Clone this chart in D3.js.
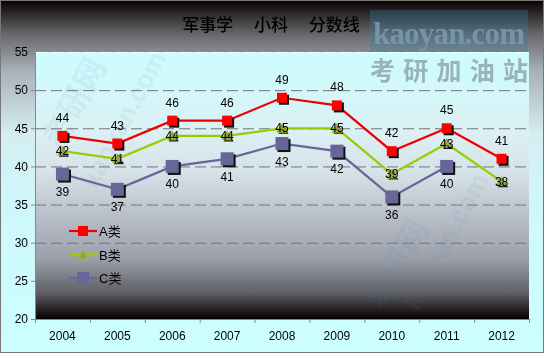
<!DOCTYPE html>
<html>
<head>
<meta charset="utf-8">
<style>
  body { margin: 0; background: #fff; }
  svg text { font-family: "Liberation Sans", "DejaVu Sans", sans-serif; }
</style>
</head>
<body>
<div id="chart"></div>
<script src="https://cdnjs.cloudflare.com/ajax/libs/d3/7.8.5/d3.min.js"></script>
<script>
// data
const years = ["2004", "2005", "2006", "2007", "2008", "2009", "2010", "2011", "2012"];
const seriesA = [44, 43, 46, 46, 49, 48, 42, 45, 41];
const seriesB = [42, 41, 44, 44, 45, 45, 39, 43, 38];
const seriesC = [39, 37, 40, 41, 43, 42, 36, 40, null];
const yTicks = [20, 25, 30, 35, 40, 45, 50, 55];
const seriesNames = ["A类", "B类", "C类"];

const width = 544, height = 353;
const plot = { left: 35, right: 529, top: 52, bottom: 319 };

const svg = d3.select("#chart").append("svg")
  .attr("width", width).attr("height", height);

const defs = svg.append("defs");
const outerGrad = defs.append("linearGradient").attr("id", "outerBg")
  .attr("x1", 0).attr("y1", 0).attr("x2", 0).attr("y2", 1);
[[0, "#050000"], [0.1, "#6a6a6e"], [0.2, "#a8b0b8"], [0.38, "#d4eef2"], [0.6, "#cef8fc"], [1, "#ccffff"]]
  .forEach(([o, c]) => outerGrad.append("stop").attr("offset", o).attr("stop-color", c));

const plotGrad = defs.append("linearGradient").attr("id", "plotBg")
  .attr("x1", 0).attr("y1", 0).attr("x2", 0).attr("y2", 1);
[[0, "#ccfdff"], [0.3, "#dcf0f4"], [0.45, "#d6e2e8"], [0.62, "#b8bec8"], [0.78, "#9a9ea8"], [0.9, "#606066"], [1, "#050000"]]
  .forEach(([o, c]) => plotGrad.append("stop").attr("offset", o).attr("stop-color", c));

svg.append("rect").attr("width", width).attr("height", height).attr("fill", "url(#outerBg)");
svg.append("rect").attr("x", 0.5).attr("y", 0.5).attr("width", width - 1).attr("height", height - 1)
  .attr("fill", "none").attr("stroke", "#777");

svg.append("rect")
  .attr("x", plot.left).attr("y", plot.top)
  .attr("width", plot.right - plot.left).attr("height", plot.bottom - plot.top)
  .attr("fill", "url(#plotBg)");

// scales
const x = d3.scaleBand().domain(years).range([plot.left, plot.right]);
const y = d3.scaleLinear().domain([20, 55]).range([plot.bottom, plot.top]);

// faint watermarks in plot
const wm = svg.append("g").attr("fill", "#4a86b0").attr("opacity", 0.09).style("font-weight", "bold");
wm.append("text").attr("transform", "translate(62,150) rotate(-62)")
  .attr("font-size", 32).style("font-family", "'Noto Sans CJK SC'").text("考研网");
wm.append("text").attr("transform", "translate(96,190) rotate(-62)")
  .attr("font-size", 26).text("kaoyan.com");
wm.append("text").attr("transform", "translate(385,312) rotate(-62)")
  .attr("font-size", 32).style("font-family", "'Noto Sans CJK SC'").text("考研网");
wm.append("text").attr("transform", "translate(418,312) rotate(-62)")
  .attr("font-size", 26).text("kaoyan.com");

// gridlines
svg.append("g").selectAll("line").data(yTicks.filter(d => d > 20))
  .join("line")
  .attr("x1", plot.left).attr("x2", plot.right)
  .attr("y1", d => y(d) + 0.5).attr("y2", d => y(d) + 0.5)
  .attr("stroke", d => d === 55 ? "#ffffff" : "#6e7478")
  .attr("stroke-dasharray", "11,5");

// y axis
const yAxis = svg.append("g").attr("transform", `translate(${plot.left},0)`)
  .call(d3.axisLeft(y).tickValues(yTicks).tickSize(4).tickPadding(3));
yAxis.select(".domain").attr("stroke", "#888");
yAxis.selectAll(".tick line").attr("stroke", "#888");
yAxis.selectAll(".tick text").attr("font-size", 12).attr("fill", "#000");

// x axis
const xAxis = svg.append("g").attr("transform", `translate(0,${plot.bottom})`)
  .call(d3.axisBottom(x).tickSize(0).tickPadding(12));
xAxis.select(".domain").attr("stroke", "#888");
xAxis.selectAll(".tick text").attr("font-size", 12).attr("fill", "#000");
svg.append("g").selectAll("line").data(years.concat(["end"]))
  .join("line")
  .attr("x1", (d, i) => plot.left + i * x.bandwidth() + 0.5)
  .attr("x2", (d, i) => plot.left + i * x.bandwidth() + 0.5)
  .attr("y1", plot.bottom).attr("y2", plot.bottom + 4)
  .attr("stroke", "#888");

const cx = d => x(d) + x.bandwidth() / 2;

function drawSeries(values, color, markerFn, labelDy) {
  const pts = years.map((yr, i) => ({ yr, v: values[i] })).filter(p => p.v != null);
  const line = d3.line().x(p => cx(p.yr)).y(p => y(p.v));
  svg.append("path").datum(pts).attr("d", line)
    .attr("fill", "none").attr("stroke", color).attr("stroke-width", 2.2);
  const g = svg.append("g");
  pts.forEach(p => markerFn(g, cx(p.yr), y(p.v)));
  svg.append("g").selectAll("text").data(pts).join("text")
    .attr("x", p => cx(p.yr)).attr("y", p => y(p.v) + labelDy)
    .attr("text-anchor", "middle").attr("font-size", 12).attr("fill", "#000")
    .text(p => p.v);
}

function squareMarker(size, fill) {
  return (g, px, py) => {
    g.append("rect").attr("x", px - size / 2 + 2).attr("y", py - size / 2 + 2)
      .attr("width", size).attr("height", size).attr("fill", "#111");
    g.append("rect").attr("x", px - size / 2).attr("y", py - size / 2)
      .attr("width", size).attr("height", size).attr("fill", fill);
  };
}
function triMarker(g, px, py) {
  const tri = (ox, oy) => `M${px + ox},${py - 5 + oy}L${px + 5 + ox},${py + 4 + oy}L${px - 5 + ox},${py + 4 + oy}Z`;
  g.append("path").attr("d", tri(1.5, 1.5)).attr("fill", "#111");
  g.append("path").attr("d", tri(0, 0)).attr("fill", "#9a9a60").attr("stroke", "#99cc00").attr("stroke-width", 0.8);
}

drawSeries(seriesC, "#666699", squareMarker(13, "#666699"), 22);
drawSeries(seriesB, "#99cc00", triMarker, 4);
drawSeries(seriesA, "#ee0000", squareMarker(10, "#ff0000"), -14);

// legend
const legend = svg.append("g");
const legendRows = [
  { name: seriesNames[0], color: "#ee0000", y: 231 },
  { name: seriesNames[1], color: "#99cc00", y: 255 },
  { name: seriesNames[2], color: "#666699", y: 278 }
];
legendRows.forEach((r, i) => {
  legend.append("line").attr("x1", 69).attr("x2", 97).attr("y1", r.y).attr("y2", r.y)
    .attr("stroke", r.color).attr("stroke-width", 2.2);
  if (i === 0) {
    legend.append("rect").attr("x", 78).attr("y", r.y - 5).attr("width", 10).attr("height", 10).attr("fill", "#ff0000");
  } else if (i === 1) {
    legend.append("path").attr("d", `M83,${r.y - 5}L88,${r.y + 4}L78,${r.y + 4}Z`)
      .attr("fill", "#9a9a60").attr("stroke", "#99cc00").attr("stroke-width", 0.8);
  } else {
    legend.append("rect").attr("x", 77).attr("y", r.y - 6).attr("width", 12).attr("height", 12).attr("fill", "#666699");
  }
  legend.append("text").attr("x", 99).attr("y", r.y + 5).attr("font-size", 13)
    .style("font-family", "'Liberation Sans','Noto Sans CJK SC'").text(r.name);
});

// title
svg.append("text").attr("x", 271).attr("y", 31).attr("text-anchor", "middle")
  .attr("font-size", 17).attr("fill", "#000")
  .style("font-family", "'Noto Sans CJK SC'").style("font-weight", "500").style("white-space", "pre")
  .text("军事学　 小科　 分数线");

// corner logo
svg.append("rect").attr("x", 370).attr("y", 10).attr("width", 158).attr("height", 42)
  .attr("fill", "#3a7aa0").attr("opacity", 0.35);
svg.append("text").attr("x", 373).attr("y", 44).attr("font-size", 31)
  .attr("fill", "#7a98a8").attr("opacity", 0.9)
  .style("font-family", "'Liberation Serif', serif").style("font-weight", "bold")
  .attr("textLength", 152).text("kaoyan.com");
svg.append("text").attr("x", 370).attr("y", 80).attr("font-size", 25)
  .attr("fill", "#8fa6b0").attr("opacity", 0.85)
  .style("font-family", "'Noto Sans CJK SC'").style("font-weight", "bold")
  .attr("textLength", 158).text("考研加油站");
</script>
</body>
</html>
